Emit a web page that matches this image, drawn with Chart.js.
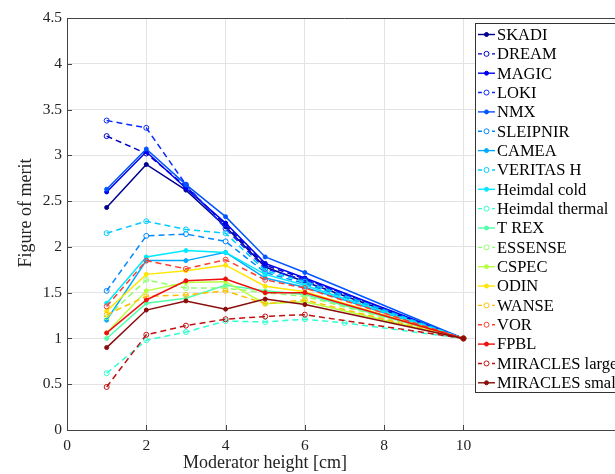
<!DOCTYPE html>
<html>
<head>
<meta charset="utf-8">
<script src="https://cdn.jsdelivr.net/npm/chart.js@4"></script>
<style>
  html, body { margin: 0; padding: 0; background: #fff; overflow: hidden; }
  #wrap { width: 630px; height: 474px; }
</style>
</head>
<body>
<div id="wrap"><canvas id="chartCanvas" width="630" height="474"></canvas></div>
<script>
// moderator heights [cm]
const heights = [1, 2, 3, 4, 5, 6, 7, 10];

const instruments = [
    "SKADI", "DREAM", "MAGIC", "LOKI", "NMX", "SLEIPNIR", "CAMEA", "VERITAS H",
    "Heimdal cold", "Heimdal thermal", "T REX", "ESSENSE", "CSPEC", "ODIN",
    "WANSE", "VOR", "FPBL", "MIRACLES large", "MIRACLES small"
];

// figure of merit per instrument (null = no point at that height)
const skadi          = [2.43, 2.90, 2.62, 2.22, 1.78, 1.62, null, 1.0];
const dream          = [3.21, 3.02, 2.66, 2.24, 1.80, 1.65, null, 1.0];
const magic          = [2.60, 3.04, 2.64, 2.26, 1.82, 1.66, null, 1.0];
const loki           = [3.38, 3.30, 2.68, 2.20, 1.76, 1.64, null, 1.0];
const nmx            = [2.63, 3.07, 2.68, 2.33, 1.89, 1.72, null, 1.0];
const sleipnir       = [1.52, 2.12, 2.14, 2.06, 1.72, 1.60, null, 1.0];
const camea          = [1.20, 1.85, 1.85, 1.94, 1.66, 1.56, null, 1.0];
const veritasH       = [2.15, 2.28, 2.19, 2.15, 1.74, 1.62, null, 1.0];
const heimdalCold    = [1.385, 1.89, 1.96, 1.94, 1.70, 1.58, null, 1.0];
const heimdalThermal = [0.62, 0.98, 1.07, 1.19, 1.18, 1.21, 1.17, 1.0];
const trex           = [1.00, 1.385, 1.44, 1.58, 1.52, 1.48, null, 1.0];
const essense        = [1.23, 1.64, 1.55, 1.55, 1.50, 1.46, null, 1.0];
const cspec          = [1.06, 1.52, 1.61, 1.62, 1.38, 1.40, null, 1.0];
const odin           = [1.30, 1.70, 1.74, 1.80, 1.57, 1.51, null, 1.0];
const wanse          = [1.26, 1.46, 1.475, 1.52, 1.38, 1.42, null, 1.0];
const vor            = [1.35, 1.85, 1.76, 1.86, 1.64, 1.55, null, 1.0];
const fpbl           = [1.06, 1.42, 1.63, 1.65, 1.50, 1.50, null, 1.0];
const miraclesLarge  = [0.47, 1.04, 1.14, 1.21, 1.24, 1.26, null, 1.0];
const miraclesSmall  = [0.90, 1.31, 1.41, 1.32, 1.43, 1.37, null, 1.0];

const seriesValues = [
    skadi, dream, magic, loki, nmx, sleipnir, camea, veritasH, heimdalCold,
    heimdalThermal, trex, essense, cspec, odin, wanse, vor, fpbl,
    miraclesLarge, miraclesSmall
];

const yTicks = [0, 0.5, 1, 1.5, 2, 2.5, 3, 3.5, 4, 4.5];
const xTicks = [0, 2, 4, 6, 8, 10];

// styles (jet-like colours, dashed = open markers)
const colors = [
    "#00008f", "#0000c8", "#0000f0", "#0a2aff", "#0055ff", "#0088ff", "#00aaff",
    "#00ccff", "#00eaff", "#30ffd0", "#50ffa8", "#90ff70", "#b8ff40", "#ffe600",
    "#ffc000", "#ff4030", "#ee1010", "#c01010", "#8a0c0c"
];
const dashed = [
    false, true, false, true, false, true, false, true, false, true,
    false, true, false, false, true, true, false, true, false
];

const SERIF = "'Liberation Serif', 'DejaVu Serif', serif";

/* ----------------------------------------
   DATASETS
---------------------------------------- */
const datasets = instruments.map((name, i) => ({
    label: name,
    data: heights.map((h, k) => ({ x: h, y: seriesValues[i][k] })),
    borderColor: colors[i],
    backgroundColor: colors[i],
    borderWidth: 1.5,
    borderDash: dashed[i] ? [6, 4] : [],
    pointRadius: dashed[i] ? 2.5 : 2,
    pointBorderWidth: 1,
    pointBackgroundColor: dashed[i] ? "rgba(255,255,255,0)" : colors[i],
    pointBorderColor: colors[i],
    spanGaps: true,
    tension: 0,
    order: -i
}));

/* ----------------------------------------
   FRAME, TITLES AND LEGEND
---------------------------------------- */
const decorPlugin = {
    id: "decor",
    afterDraw(chart) {
        const ctx = chart.ctx;
        const a = chart.chartArea;
        const xs = chart.scales.x, ys = chart.scales.y;
        ctx.save();

        // top frame line
        ctx.strokeStyle = "#444";
        ctx.lineWidth = 1;
        ctx.beginPath();
        ctx.moveTo(a.left, Math.round(a.top) + 0.5);
        ctx.lineTo(a.right, Math.round(a.top) + 0.5);
        ctx.stroke();

        // inward tick marks
        ctx.beginPath();
        yTicks.forEach(v => {
            const py = Math.round(ys.getPixelForValue(v)) + 0.5;
            ctx.moveTo(a.left, py);
            ctx.lineTo(a.left + 5, py);
        });
        xTicks.forEach(v => {
            const px = Math.round(xs.getPixelForValue(v)) + 0.5;
            ctx.moveTo(px, a.bottom);
            ctx.lineTo(px, a.bottom - 5);
        });
        ctx.stroke();

        // axis titles
        ctx.fillStyle = "#222";
        ctx.font = "18px " + SERIF;
        ctx.textAlign = "center";
        ctx.textBaseline = "middle";
        ctx.fillText("Moderator height [cm]", 265, 463);
        ctx.save();
        ctx.translate(26, 213);
        ctx.rotate(-Math.PI / 2);
        ctx.fillText("Figure of merit", 0, 0);
        ctx.restore();

        // legend box
        const lx = 475.5, ly = 23.5, lw = 170, lh = 369;
        ctx.fillStyle = "#fff";
        ctx.fillRect(lx, ly, lw, lh);
        ctx.strokeStyle = "#333";
        ctx.strokeRect(lx, ly, lw, lh);

        ctx.font = "16.5px " + SERIF;
        ctx.textAlign = "left";
        instruments.forEach((name, i) => {
            const y = 34.5 + i * 19.35;
            ctx.strokeStyle = colors[i];
            ctx.lineWidth = 1.4;
            ctx.setLineDash(dashed[i] ? [4, 3] : []);
            ctx.beginPath();
            ctx.moveTo(478, y);
            ctx.lineTo(495, y);
            ctx.stroke();
            ctx.setLineDash([]);
            ctx.lineWidth = 1;
            ctx.beginPath();
            ctx.arc(486.5, y, dashed[i] ? 2.5 : 2, 0, Math.PI * 2);
            ctx.fillStyle = dashed[i] ? "#fff" : colors[i];
            ctx.fill();
            ctx.stroke();
            ctx.fillStyle = "#000";
            ctx.fillText(name, 497, y + 1);
        });

        ctx.restore();
    }
};

/* ----------------------------------------
   CHART
---------------------------------------- */
const ctx = document.getElementById("chartCanvas").getContext("2d");
new Chart(ctx, {
    type: "line",
    data: { datasets },
    options: {
        responsive: false,
        animation: false,
        devicePixelRatio: 1,
        layout: { padding: { left: 0, top: 18, right: 8, bottom: 0 } },
        plugins: {
            legend: { display: false },
            tooltip: { enabled: false }
        },
        scales: {
            x: {
                type: "linear",
                min: 0,
                max: 14,
                afterBuildTicks: scale => {
                    scale.ticks = xTicks.map(v => ({ value: v }));
                },
                afterFit: scale => { scale.height = 44; },
                grid: { color: "#e3e3e3", lineWidth: 1, drawTicks: false },
                border: { color: "#444", width: 1 },
                ticks: {
                    color: "#222",
                    padding: 7,
                    maxRotation: 0,
                    font: { family: SERIF, size: 15.5 }
                }
            },
            y: {
                min: 0,
                max: 4.5,
                afterBuildTicks: scale => {
                    scale.ticks = yTicks.map(v => ({ value: v }));
                },
                afterFit: scale => { scale.width = 67; },
                grid: { color: "#e3e3e3", lineWidth: 1, drawTicks: false },
                border: { color: "#444", width: 1 },
                ticks: {
                    color: "#222",
                    padding: 5,
                    font: { family: SERIF, size: 15.5 },
                    callback: v => String(v)
                }
            }
        }
    },
    plugins: [decorPlugin]
});
</script>
</body>
</html>
